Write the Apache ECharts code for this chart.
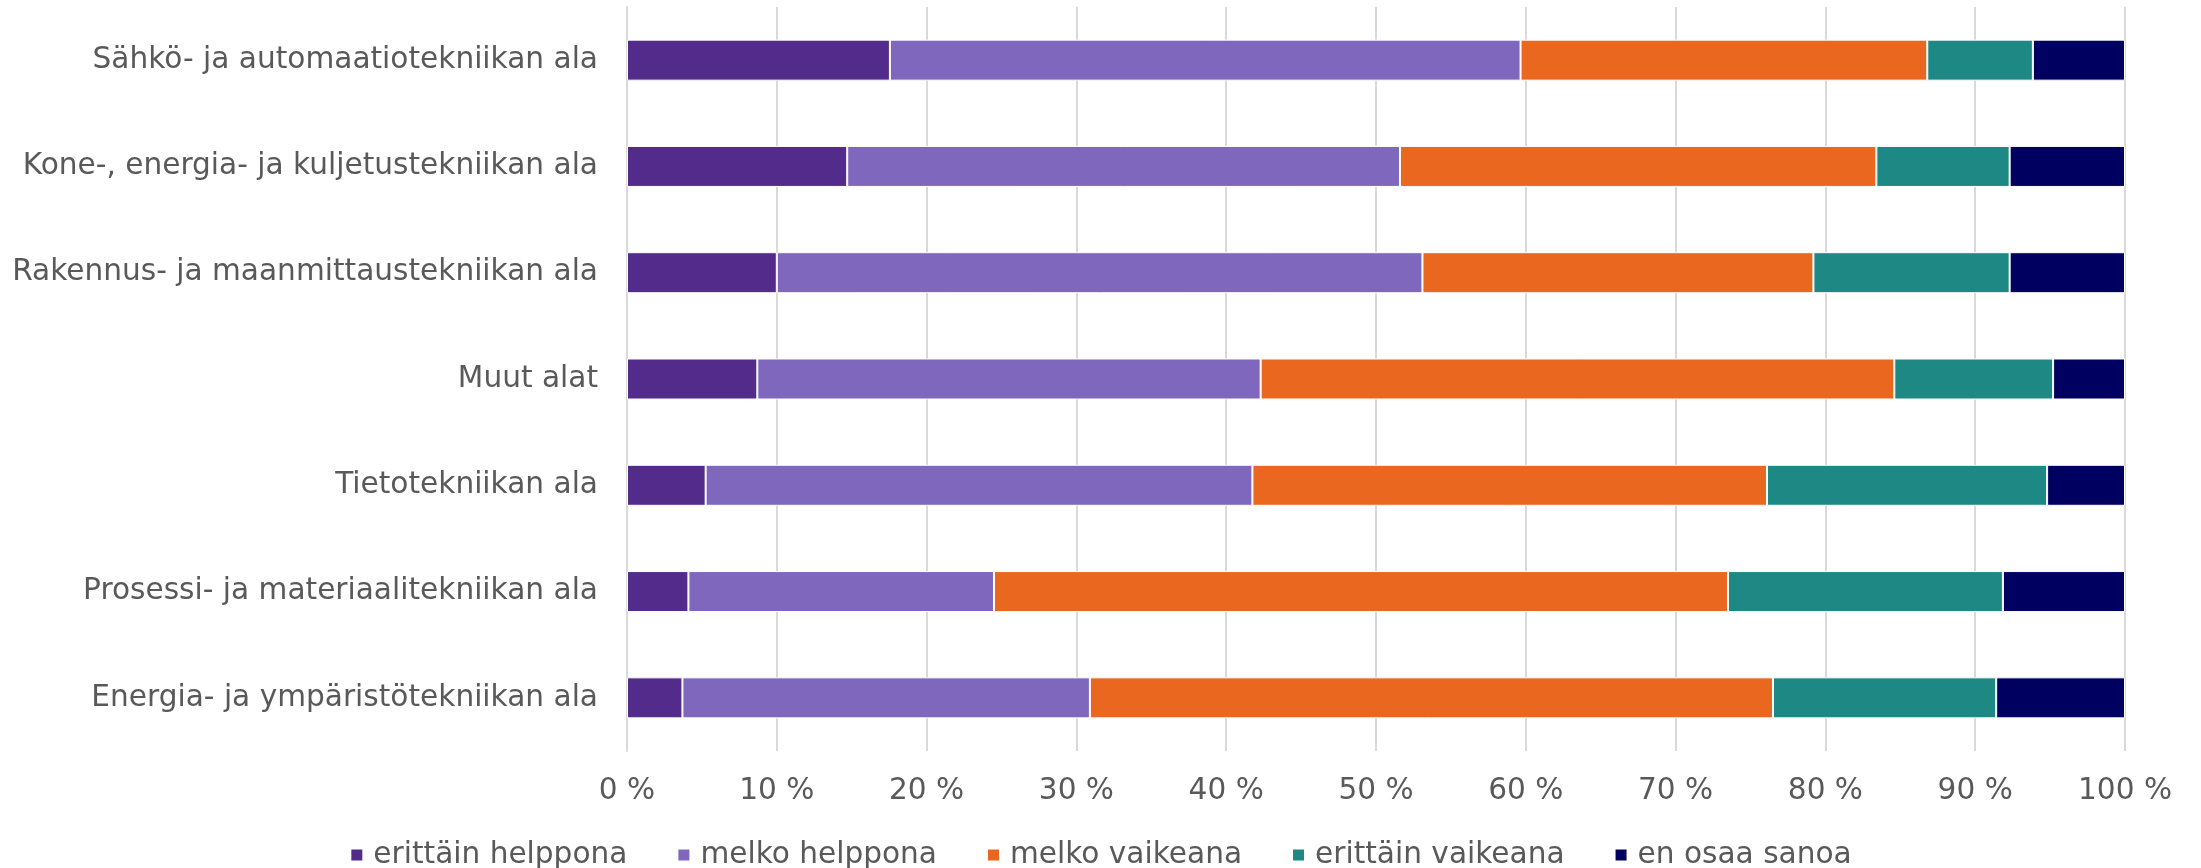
<!DOCTYPE html>
<html>
<head>
<meta charset="utf-8">
<script src="https://cdn.jsdelivr.net/npm/echarts@6/dist/echarts.min.js"></script>
<style>
html,body{margin:0;padding:0;background:#fff;}
#chart{width:2201px;height:868px;}
</style>
</head>
<body>
<div id="chart"></div>
<script>
const categories = [
  "Sähkö- ja automaatiotekniikan ala",
  "Kone-, energia- ja kuljetustekniikan ala",
  "Rakennus- ja maanmittaustekniikan ala",
  "Muut alat",
  "Tietotekniikan ala",
  "Prosessi- ja materiaalitekniikan ala",
  "Energia- ja ympäristötekniikan ala"
];
const seriesNames = ["erittäin helppona", "melko helppona", "melko vaikeana", "erittäin vaikeana", "en osaa sanoa"];
const erittainHelppona = [17.55, 14.7, 10.0, 8.7, 5.25, 4.1, 3.7];
const melkoHelppona    = [42.1, 36.9, 43.1, 33.6, 36.5, 20.4, 27.2];
const melkoVaikeana    = [27.15, 31.8, 26.1, 42.3, 34.35, 49.0, 45.6];
const erittainVaikeana = [7.05, 8.9, 13.1, 10.6, 18.7, 18.35, 14.9];
const enOsaaSanoa      = [6.15, 7.7, 7.7, 4.8, 5.2, 8.15, 8.6];
const xTicks = [0, 10, 20, 30, 40, 50, 60, 70, 80, 90, 100];

const colors = ["#532B8A", "#7E67BC", "#E9671F", "#1E8885", "#000061"];
const values = [erittainHelppona, melkoHelppona, melkoVaikeana, erittainVaikeana, enOsaaSanoa];
const font = "DejaVu Sans";

const chart = echarts.init(document.getElementById('chart'));
chart.setOption({
  animation: false,
  color: colors,
  textStyle: { fontFamily: font },
  grid: { left: 627, right: 76, top: 7, bottom: 117, containLabel: false },
  legend: {
    left: 'center',
    top: 833,
    icon: 'rect',
    itemWidth: 13,
    itemHeight: 13,
    itemGap: 49,
    textStyle: { fontFamily: font, fontSize: 29.6, color: '#595959', lineHeight: 34, padding: [0, 0, 0, 5] },
    data: seriesNames
  },
  xAxis: {
    type: 'value',
    min: xTicks[0],
    max: xTicks[xTicks.length - 1],
    interval: xTicks[1] - xTicks[0],
    axisLine: { show: false },
    axisTick: { show: false },
    splitLine: { show: true, lineStyle: { color: '#d9d9d9', width: 2 } },
    axisLabel: { fontFamily: font, fontSize: 29.6, color: '#595959', margin: 25, formatter: '{value} %' }
  },
  yAxis: {
    type: 'category',
    inverse: true,
    data: categories,
    axisLine: { show: true, lineStyle: { color: '#d9d9d9', width: 2 } },
    axisTick: { show: false },
    axisLabel: { fontFamily: font, fontSize: 29.6, color: '#595959', margin: 29 }
  },
  series: seriesNames.map((name, i) => ({
    name: name,
    type: 'bar',
    stack: 'total',
    barWidth: 41,
    data: values[i],
    itemStyle: { color: colors[i], borderColor: '#ffffff', borderWidth: 1 }
  }))
});
</script>
</body>
</html>
